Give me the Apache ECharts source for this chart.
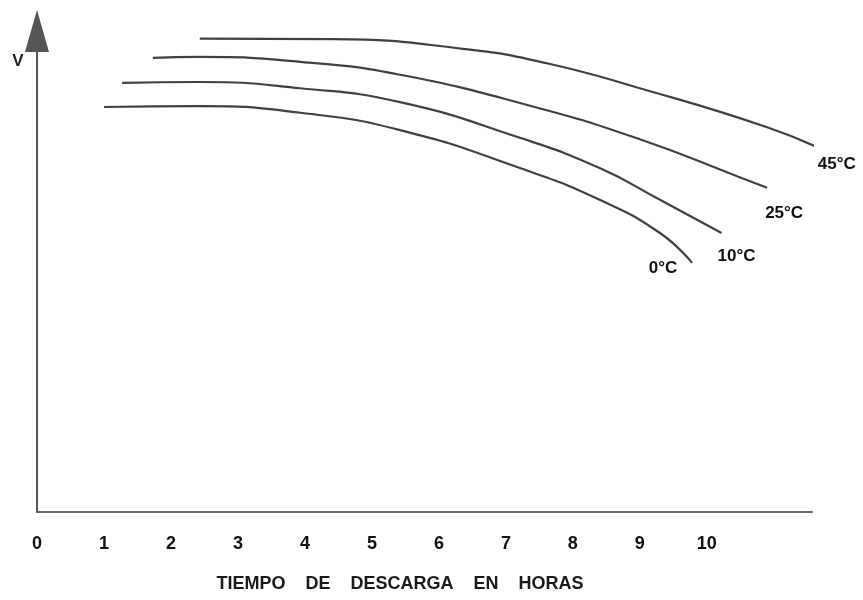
<!DOCTYPE html>
<html lang="es">
<head>
  <meta charset="UTF-8">
  <title>Tiempo de descarga</title>
  <script src="https://cdn.jsdelivr.net/npm/echarts@6/dist/echarts.min.js"></script>
</head>
<body style="margin:0;background:#fff;">
  <div id="chart" style="width:863px;height:600px;"></div>

  <script>
    // horas de descarga / tension (escala relativa, el original no tiene numeros en V)
    var hourTicks = [0, 1, 2, 3, 4, 5, 6, 7, 8, 9, 10];
    var curveNames = ['0°C', '10°C', '25°C', '45°C'];

    var curve0 = [[1.00, 84.2], [2.43, 84.4], [3.93, 83.0], [5.42, 79.4], [7.21, 71.5],
                  [8.40, 64.9], [9.30, 58.0], [9.78, 51.8]];
    var curve10 = [[1.27, 89.2], [2.43, 89.4], [3.93, 88.1], [5.42, 85.2], [7.21, 77.8],
                   [8.40, 71.5], [9.30, 64.9], [10.22, 58.0]];
    var curve25 = [[1.73, 94.4], [2.43, 94.6], [3.93, 93.6], [5.42, 90.9], [7.43, 84.2],
                   [9.00, 77.5], [10.49, 69.6], [10.90, 67.4]];
    var curve45 = [[2.43, 98.4], [4.42, 98.3], [6.36, 96.3], [7.61, 93.3], [9.00, 88.1],
                   [10.90, 80.0], [11.73, 75.3]];

    var curves = [curve0, curve10, curve25, curve45];
    // desplazamiento de cada etiqueta respecto al final de su curva
    var labelOffsets = [[-29, 5], [15, 23], [17, 26], [14, 15]];

    var fontFam = '"Liberation Sans", Arial, sans-serif';
    var myChart = echarts.init(document.getElementById('chart'));

    var series = [];
    curves.forEach(function (c, i) {
      series.push({
        name: curveNames[i],
        type: 'line',
        data: c,
        smooth: 0.5,
        showSymbol: false,
        clip: false,
        silent: true,
        lineStyle: {color: '#404040', width: 2.2}
      });
    });
    // etiquetas al final de cada curva
    series.push({
      type: 'scatter',
      symbolSize: 0,
      clip: false,
      silent: true,
      itemStyle: {opacity: 1},
      data: curves.map(function (c, i) {
        var last = c[c.length - 1];
        return {
          value: last,
          label: {
            show: true,
            formatter: curveNames[i],
            position: 'inside',
            offset: labelOffsets[i],
            align: 'center',
            verticalAlign: 'middle',
            fontSize: 17,
            fontWeight: 'bold',
            fontFamily: fontFam,
            color: '#111'
          }
        };
      })
    });

    var option = {
      animation: false,
      backgroundColor: '#fff',
      grid: {left: 37, right: 51, top: 31, bottom: 88},
      xAxis: {
        type: 'value',
        min: 0,
        max: 11.57,
        splitLine: {show: false},
        axisTick: {show: false},
        axisLine: {show: true, lineStyle: {color: '#666', width: 2}},
        axisLabel: {
          customValues: hourTicks,
          margin: 23,
          fontSize: 18,
          fontWeight: 'bold',
          fontFamily: fontFam,
          color: '#111'
        }
      },
      yAxis: {
        type: 'value',
        min: 0,
        max: 100,
        splitLine: {show: false},
        axisTick: {show: false},
        axisLabel: {show: false},
        axisLine: {
          show: true,
          symbol: ['none', 'triangle'],
          symbolSize: [24, 42],
          lineStyle: {color: '#555', width: 2}
        }
      },
      graphic: [
        {
          type: 'text',
          x: 18, y: 61,
          style: {text: 'V', align: 'center', verticalAlign: 'middle',
                  font: 'bold 17px ' + fontFam, fill: '#222'}
        },
        {
          type: 'text',
          x: 400, y: 584,
          style: {text: 'TIEMPO    DE    DESCARGA    EN    HORAS', align: 'center', verticalAlign: 'middle',
                  font: 'bold 18px ' + fontFam, fill: '#1a1a1a'}
        }
      ],
      series: series
    };

    myChart.setOption(option);
  </script>
</body>
</html>
